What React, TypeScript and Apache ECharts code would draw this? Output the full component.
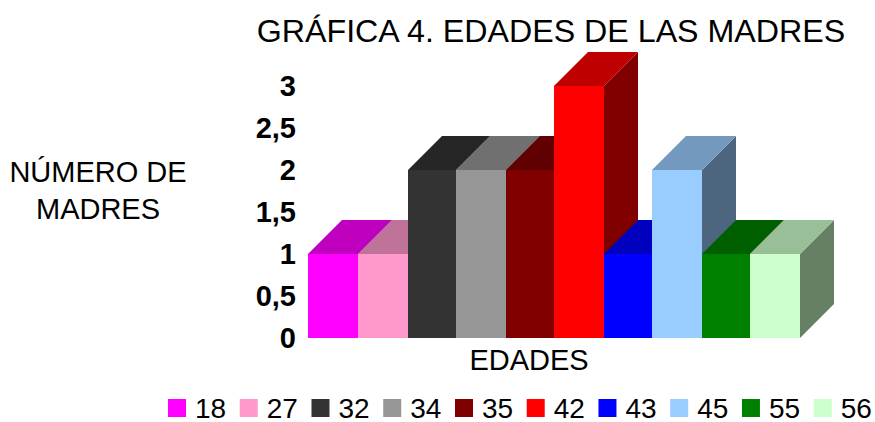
import React, { useEffect, useRef } from "react";
import * as echarts from "echarts";

const ages = ["18", "27", "32", "34", "35", "42", "43", "45", "55", "56"];
const counts = [1, 1, 2, 2, 2, 3, 1, 2, 1, 1];
const frontColors = ["#FF00FF", "#FF99CC", "#333333", "#969696", "#800000", "#FF0000", "#0000FF", "#99CCFF", "#008000", "#CCFFCC"];
const topColors = ["#BF00BF", "#BF7399", "#262626", "#707070", "#600000", "#BF0000", "#0000BF", "#7399BF", "#006000", "#99BF99"];
const sideColors = ["#800080", "#806680", "#1A1A1A", "#4B4B4B", "#400000", "#800000", "#000080", "#4D6680", "#004000", "#668066"];
const yTicks = [0, 0.5, 1, 1.5, 2, 2.5, 3];
const titleText = "GRÁFICA 4. EDADES DE LAS MADRES";
const yName = "NÚMERO DE\nMADRES";
const xName = "EDADES";

const FONT = "'Liberation Sans', Arial, sans-serif";
const DEPTH = 34;

export default function App() {
  const ref = useRef<HTMLDivElement>(null);
  useEffect(() => {
    const chart = echarts.init(ref.current!, null, { renderer: "svg" });
    const series = ages.map((age, i) => ({
      type: "custom",
      name: age,
      data: [[0, counts[i]]],
      itemStyle: { color: frontColors[i] },
      clip: false,
      renderItem: (_p: any, api: any) => {
        const top = api.coord([0, api.value(1)]);
        const base = api.coord([0, 0]);
        const band = api.size([1, 0])[0];
        const w = (band / ages.length) * 0.998;
        const start = base[0] - band / 2;
        const snap = (v: number) => Math.round(v / 2) * 2;
        const x0 = i === 0 ? start : snap(start + i * w + 0.9);
        const x1 = i === ages.length - 1 ? start + band : snap(start + (i + 1) * w + 0.9);
        const yT = top[1];
        const yB = base[1];
        return {
          type: "group",
          children: [
            { type: "polygon", shape: { points: [[x1, yT], [x1 + DEPTH, yT - DEPTH], [x1 + DEPTH, yB - DEPTH], [x1, yB]] }, style: { fill: sideColors[i] } },
            { type: "polygon", shape: { points: [[x0, yT], [x0 + DEPTH, yT - DEPTH], [x1 + DEPTH, yT - DEPTH], [x1, yT]] }, style: { fill: topColors[i] } },
            { type: "rect", shape: { x: x0, y: yT, width: x1 - x0, height: yB - yT }, style: { fill: frontColors[i] } },
          ],
        };
      },
    }));
    chart.setOption({
      animation: false,
      backgroundColor: "#ffffff",
      textStyle: { fontFamily: FONT },
      title: [
        { text: titleText, left: 546, top: 10, textAlign: "center", textStyle: { fontSize: 32.2, fontWeight: "normal", color: "#000", fontFamily: FONT } },
      ],
      grid: { left: 308, right: 75, top: 86, bottom: 84 },
      xAxis: { type: "category", data: [""], axisLine: { show: false }, axisTick: { show: false }, axisLabel: { show: false } },
      yAxis: {
        type: "value",
        min: 0,
        max: 3,
        interval: 0.5,
        splitLine: { show: false },
        axisLine: { show: false },
        axisTick: { show: false },
        axisLabel: {
          margin: 12,
          fontSize: 29,
          fontWeight: "bold",
          color: "#000",
          fontFamily: FONT,
          formatter: (v: number) => String(yTicks[Math.round(v * 2)]).replace(".", ","),
        },
      },
      legend: {
        data: ages.map((a) => ({ name: a, icon: "rect" })),
        left: 168,
        top: 394,
        width: 800,
        padding: 0,
        itemWidth: 18,
        itemHeight: 18,
        itemGap: 13.6,
        selectedMode: false,
        textStyle: { fontSize: 28, lineHeight: 24, color: "#000", fontFamily: FONT, padding: [0, 0, 0, 4] },
      },
      graphic: [
        { type: "text", x: 98, y: 190, style: { text: yName, fill: "#000", font: `29px ${FONT}`, align: "center", verticalAlign: "middle", lineHeight: 37 } },
        { type: "text", x: 529, y: 360, style: { text: xName, fill: "#000", font: `29px ${FONT}`, align: "center", verticalAlign: "middle" } },
      ],
      series,
    });
    return () => chart.dispose();
  }, []);
  return <div ref={ref} style={{ position: "fixed", left: 0, top: 0, width: 875, height: 422 }} />;
}
